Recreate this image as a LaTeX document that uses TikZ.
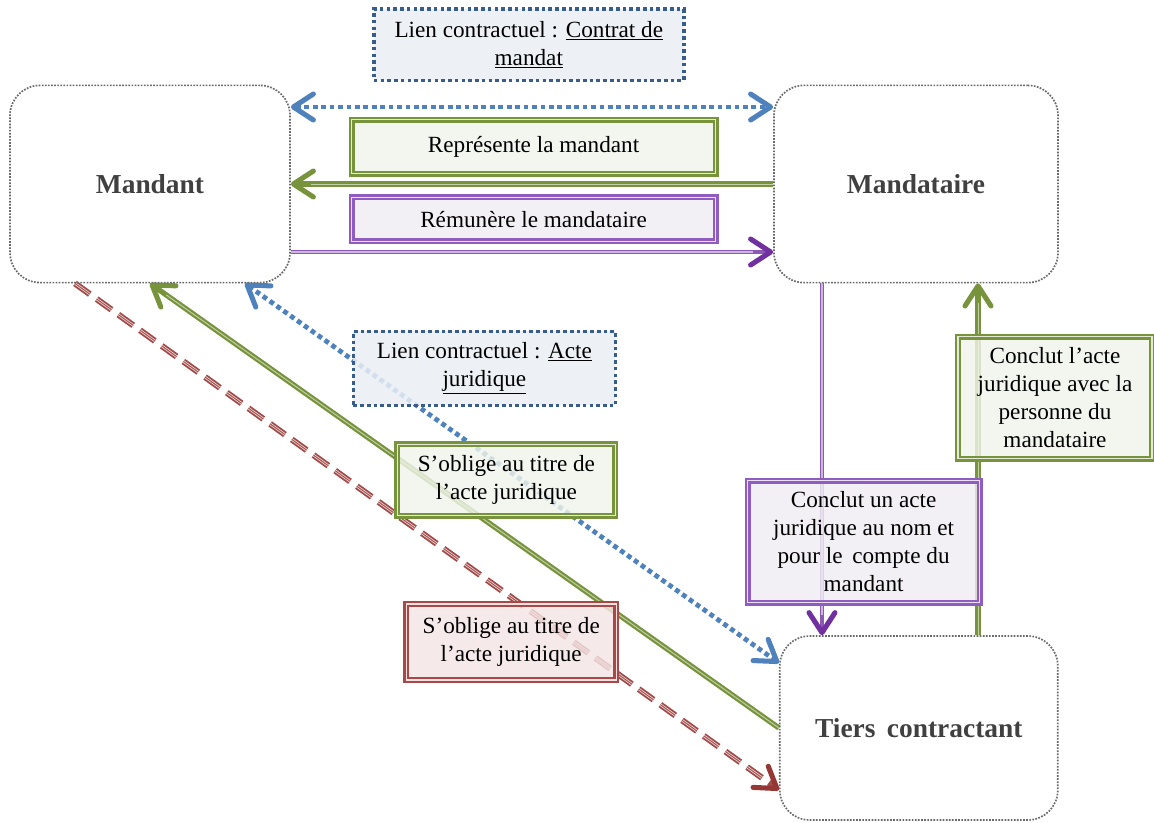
\documentclass[tikz,border=0pt]{standalone}
\usepackage[svgnames]{xcolor}
\usepackage{fontspec}
\setmainfont{Liberation Serif}
\usepackage{tikz}
\usetikzlibrary{arrows.meta}
\pgfdeclarelayer{lineas_layer}
\pgfdeclarelayer{esquema}
\pgfsetlayers{lineas_layer,main,esquema}
\definecolor{azul}{HTML}{4F81BD}
\definecolor{azuloscuro}{HTML}{385D8A}
\definecolor{azulfondo}{HTML}{EAEFF5}
\definecolor{verde}{HTML}{77933C}
\definecolor{verdefondo}{HTML}{F0F4EA}
\definecolor{morado}{HTML}{7030A0}
\definecolor{moradoborde}{HTML}{8F5CC0}
\definecolor{moradofondo}{HTML}{EFECF3}
\definecolor{rojo}{HTML}{953735}
\definecolor{rojoborde}{HTML}{A94846}
\definecolor{rojofondo}{HTML}{F4E4E4}
\definecolor{gristexto}{HTML}{404040}
\tikzset{punta/.tip={Straight Barb[length=5mm,width=6.5mm,line width=3.6pt,round]}}
\tikzstyle{parte}=[draw=DimGray,line width=1.2pt,dash pattern=on 1.2pt off 1pt,rounded corners=0.75cm,font=\fontsize{19.5}{22}\selectfont\bfseries,text=gristexto]
\tikzstyle{lien}=[draw=azuloscuro,fill=azulfondo,line width=2.6pt,dash pattern=on 2.6pt off 2.2pt,align=center,font=\fontsize{16.5}{20}\selectfont,fill opacity=0.85,text opacity=1]
\tikzstyle{accion}=[double distance=0.8pt,line width=1.7pt,align=center,font=\fontsize{16.5}{20}\selectfont,fill opacity=0.82,text opacity=1]
\tikzstyle{accion_v}=[accion,draw=verde,double=verde!20!white,fill=verdefondo]
\tikzstyle{accion_m}=[accion,draw=moradoborde,double=morado!15!white,fill=moradofondo]
\tikzstyle{accion_r}=[accion,draw=rojoborde,double=rojo!15!white,fill=rojofondo]
\tikzstyle{enlace}=[draw=azul,line width=3.4pt,dash pattern=on 3.4pt off 2.6pt,{punta[azul]}-{punta[azul]}]
\tikzstyle{linea_v}=[draw=verde,line width=3.8pt,-{punta[verde]},postaction={draw=verde!45!white,line width=0.7pt,arrows=-,shorten >=5mm}]
\tikzstyle{linea_m}=[draw=morado!80,line width=3.4pt,-{punta[morado]},postaction={draw=morado!35!white,line width=0.9pt,arrows=-,shorten >=5mm}]
\tikzstyle{linea_r}=[draw=rojo!90,line width=4.4pt,dash pattern=on 13pt off 6pt,-{punta[rojo]},postaction={draw=rojo!20!white,line width=1.8pt,arrows=-,dash pattern=on 13pt off 6pt,shorten >=5mm},postaction={draw=rojo!85,line width=0.7pt,arrows=-,dash pattern=on 13pt off 6pt,shorten >=5mm}]

\begin{document}
\begin{tikzpicture}
		\useasboundingbox (0,0) rectangle (28.85,-20.575);
		\begin{pgfonlayer}{main}
			\node [style=parte,minimum width=7cm,minimum height=4.93cm] (mandant) at (3.75,-4.6) {Mandant};
			\node [style=parte,minimum width=7.1cm,minimum height=4.93cm] (mandataire) at (22.9,-4.6) {Mandataire};
			\node [style=parte,minimum width=6.95cm,minimum height=4.6cm] (tiers) at (22.97,-18.2) {Tiers\, contractant};
		\end{pgfonlayer}
		\begin{pgfonlayer}{esquema}
			\node [style=lien,minimum width=7.75cm,minimum height=1.78cm] (contrat) at (13.22,-1.12) {Lien contractuel : \underline{Contrat de}\\\underline{mandat}};
			\node [style=accion_v,minimum width=9.1cm,minimum height=1.35cm] (represente) at (13.34,-3.67) {Représente la mandant};
			\node [style=accion_m,minimum width=9.1cm,minimum height=1.1cm] (remunere) at (13.34,-5.48) {Rémunère le mandataire};
			\node [style=lien,minimum width=6.55cm,minimum height=1.85cm] (acte) at (12.11,-9.21) {Lien contractuel : \underline{Acte}\\\underline{juridique}};
			\node [style=accion_v,minimum width=5.45cm,minimum height=1.78cm] (oblige_v) at (12.66,-12.0) {S’oblige au titre de\\l’acte juridique};
			\node [style=accion_r,minimum width=5.25cm,minimum height=1.9cm] (oblige_r) at (12.78,-16.05) {S’oblige au titre de\\l’acte juridique};
			\node [style=accion_m,minimum width=5.8cm,minimum height=3.05cm] (conclut_m) at (21.59,-13.54) {Conclut un acte\\juridique au nom et\\pour le\, compte du\\mandant};
			\node [style=accion_v,minimum width=4.85cm,minimum height=3.05cm] (conclut_v) at (26.375,-9.94) {Conclut l’acte\\juridique avec la\\personne du\\mandataire};
		\end{pgfonlayer}
		\begin{pgfonlayer}{lineas_layer}
			\coordinate (bajada) at ([xshift=-2.35cm]mandataire.south);
			\coordinate (subida) at ([xshift=1.48cm]tiers.north);
			\path [style=enlace] ([yshift=1.925cm]mandant.east) -- ([yshift=1.925cm]mandant.east -| mandataire.west);
			\path [style=linea_v] (mandataire.west) -- (mandant.east);
			\path [style=linea_m] ([yshift=-1.7cm]mandant.east) -- ([yshift=-1.7cm]mandant.east -| mandataire.west);
			\path [style=linea_r] ([xshift=-1.875cm]mandant.south) -- ([yshift=-1.55cm]tiers.west);
			\path [style=linea_v] (tiers.west) -- (mandant.south);
			\path [style=enlace] ([xshift=2.375cm]mandant.south) -- ([yshift=1.625cm]tiers.west);
			\path [style=linea_m] (bajada) -- (bajada |- tiers.north);
			\path [style=linea_v] (subida) -- (subida |- mandataire.south);
		\end{pgfonlayer}
\end{tikzpicture}
\end{document}
